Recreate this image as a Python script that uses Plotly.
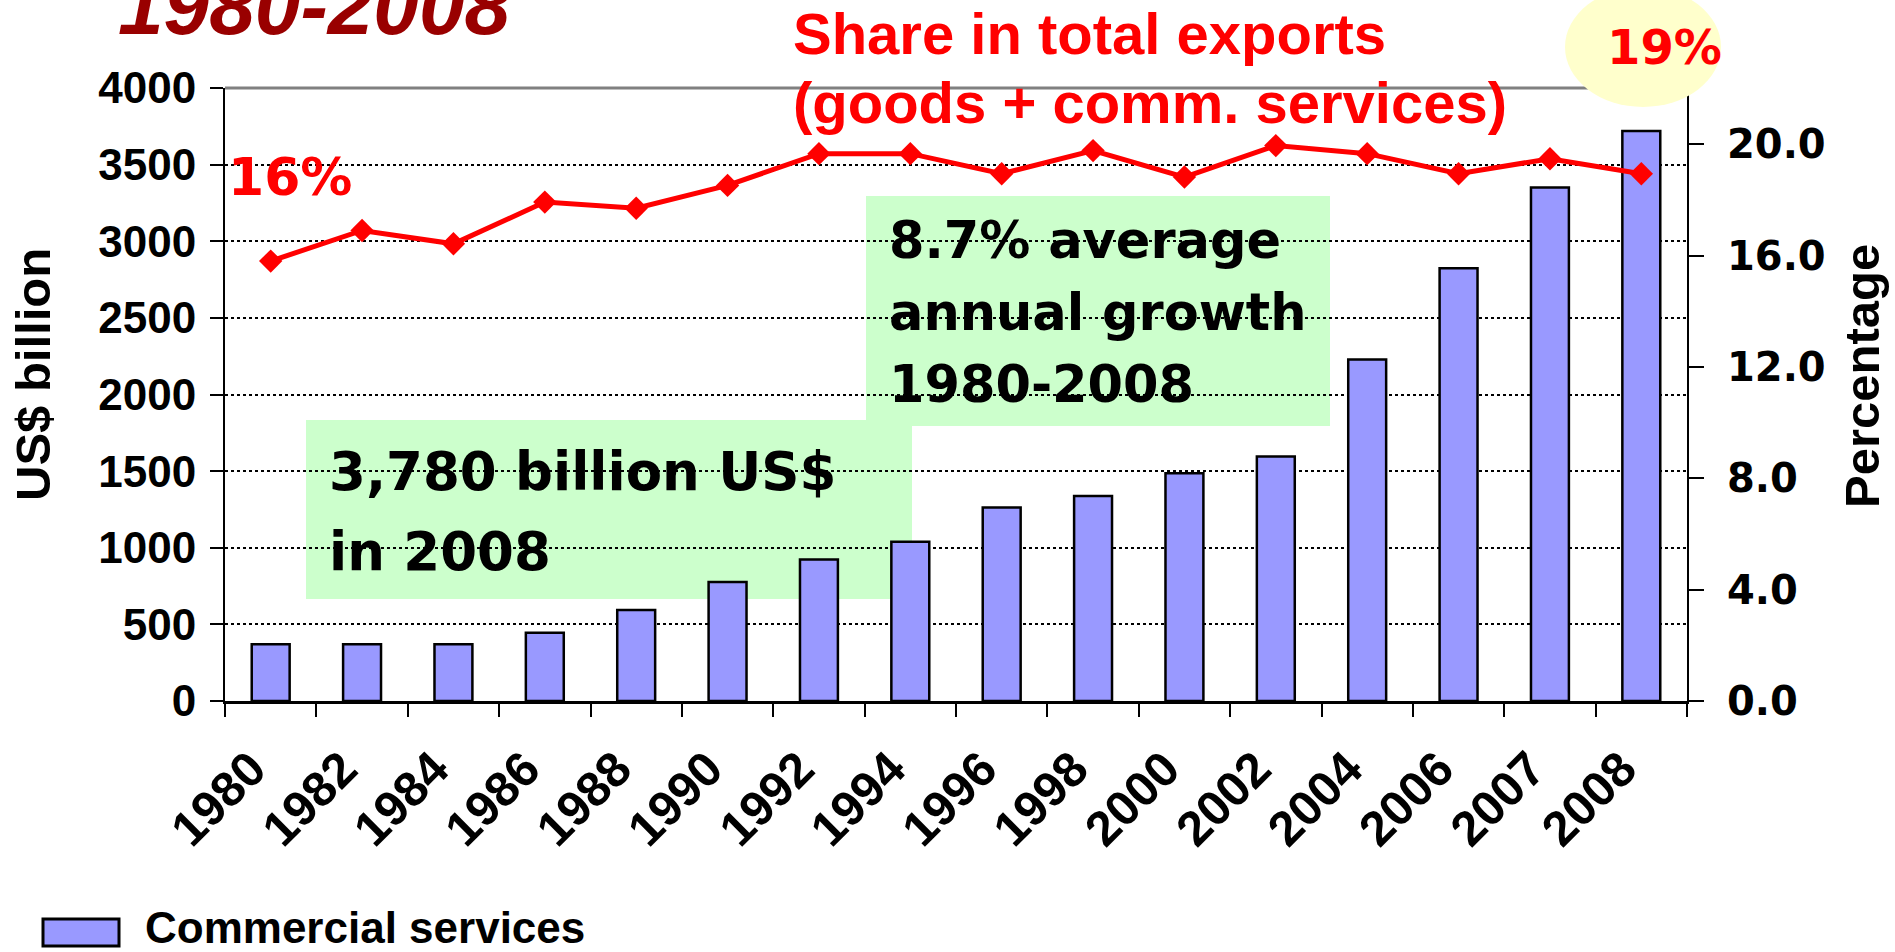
import plotly.graph_objects as go

# data
years = ["1980", "1982", "1984", "1986", "1988", "1990", "1992", "1994",
         "1996", "1998", "2000", "2002", "2004", "2006", "2007", "2008"]
services = [370, 370, 370, 445, 593, 776, 924, 1039,
            1262, 1338, 1486, 1595, 2229, 2824, 3350, 3720]
share = [15.81, 16.91, 16.43, 17.93, 17.71, 18.53, 19.67, 19.67,
         18.95, 19.78, 18.83, 19.96, 19.67, 18.95, 19.49, 18.95]

W, H = 1895, 952
L, R, T, B = 225, 1687, 88, 701  # plot area in pixels


def px(x):
    return (x - L) / (R - L)


def py(y):
    return (B - y) / (B - T)


ARIAL = "Liberation Sans"
WIDE = "DejaVu Sans"

fig = go.Figure()

fig.add_trace(go.Bar(
    x=years, y=services, name="Commercial services",
    marker=dict(color="#9999FF", line=dict(color="black", width=2.5)),
    showlegend=False,
))
fig.add_trace(go.Scatter(
    x=years, y=share, yaxis="y2", mode="lines+markers",
    name="Share in total exports",
    line=dict(color="#FF0000", width=5),
    marker=dict(symbol="diamond", size=18, color="#FF0000"),
    showlegend=False,
))

shapes = [
    # top border of plot
    dict(type="line", xref="paper", yref="paper", x0=0, x1=1, y0=1, y1=1,
         line=dict(color="#808080", width=3), layer="between"),
    # green boxes
    dict(type="rect", xref="paper", yref="paper",
         x0=px(306), x1=px(912), y0=py(599), y1=py(420),
         fillcolor="#CCFFCC", line=dict(width=0), layer="between"),
    dict(type="rect", xref="paper", yref="paper",
         x0=px(866), x1=px(1330), y0=py(426), y1=py(196),
         fillcolor="#CCFFCC", line=dict(width=0), layer="between"),
    # yellow ellipse behind 19%
    dict(type="circle", xref="paper", yref="paper",
         x0=px(1565), x1=px(1721), y0=py(107), y1=py(-13),
         fillcolor="#FFFFCC", line=dict(width=0), layer="above"),
    # legend swatch
    dict(type="rect", xref="paper", yref="paper",
         x0=px(43), x1=px(119), y0=py(946), y1=py(919),
         fillcolor="#9999FF", line=dict(color="black", width=3), layer="above"),
]


def note(text, x, y, size, color="black", family=ARIAL, xanchor="left",
         angle=0, style="normal"):
    return dict(text=text, xref="paper", yref="paper", x=px(x), y=py(y),
                xanchor=xanchor, yanchor="middle", showarrow=False,
                textangle=angle,
                font=dict(family=family, size=size, color=color,
                          weight="bold", style=style))


annotations = [
    note("1980-2008", 314, 5, 82, color="#990000", xanchor="center",
         style="italic"),
    note("Share in total exports", 791, 34, 58, color="#FF0000"),
    note("(goods + comm. services)", 791, 102, 58, color="#FF0000"),
    note("16%", 290, 177, 52, color="#FF0000", family=WIDE, xanchor="center"),
    note("19%", 1664, 47, 48, color="#FF0000", family=WIDE, xanchor="center"),
    note("8.7% average", 887, 241, 51, family=WIDE),
    note("annual growth", 887, 312, 51, family=WIDE),
    note("1980-2008", 887, 384, 51, family=WIDE),
    note("3,780 billion US$", 327, 471, 53, family=WIDE),
    note("in 2008", 327, 551, 53, family=WIDE),
    note("US$ billion", 33, 375, 49, xanchor="center", angle=-90),
    note("Percentage", 1862, 376, 49, xanchor="center", angle=-90),
    note("Commercial services", 143, 927, 44),
]

fig.update_layout(
    width=W, height=H,
    margin=dict(l=L, r=W - R, t=T, b=H - B),
    paper_bgcolor="white", plot_bgcolor="white",
    bargap=0.585,
    shapes=shapes, annotations=annotations,
    xaxis=dict(
        type="category", range=[-0.5, len(years) - 0.5],
        tickson="boundaries",
        tickvals=years, ticktext=[y + "\u00a0\u00a0" for y in years],
        ticks="outside", ticklen=13, tickwidth=2, tickcolor="black",
        showline=True, linewidth=3, linecolor="black",
        showgrid=False, tickangle=-45, ticklabelstandoff=-3,
        tickfont=dict(family=ARIAL, size=49, color="black", weight="bold"),
    ),
    yaxis=dict(
        range=[0, 4000], dtick=500,
        showgrid=True, gridcolor="black", griddash="dot", gridwidth=2,
        zeroline=False,
        ticks="outside", ticklen=13, tickwidth=2, tickcolor="black",
        showline=True, linewidth=2, linecolor="black",
        ticklabelstandoff=5,
        tickfont=dict(family=ARIAL, size=44, color="black", weight="bold"),
    ),
    yaxis2=dict(
        overlaying="y", side="right",
        range=[0, 22.03], dtick=4, tickformat=".1f",
        showgrid=False, zeroline=False,
        ticks="outside", ticklen=15, tickwidth=2, tickcolor="black",
        showline=True, linewidth=2, linecolor="black",
        ticklabelstandoff=15,
        tickfont=dict(family=WIDE, size=40, color="black", weight="bold"),
    ),
)

fig.write_html("out.html", config={"displayModeBar": False},
               post_script="document.body.style.margin='0';")
